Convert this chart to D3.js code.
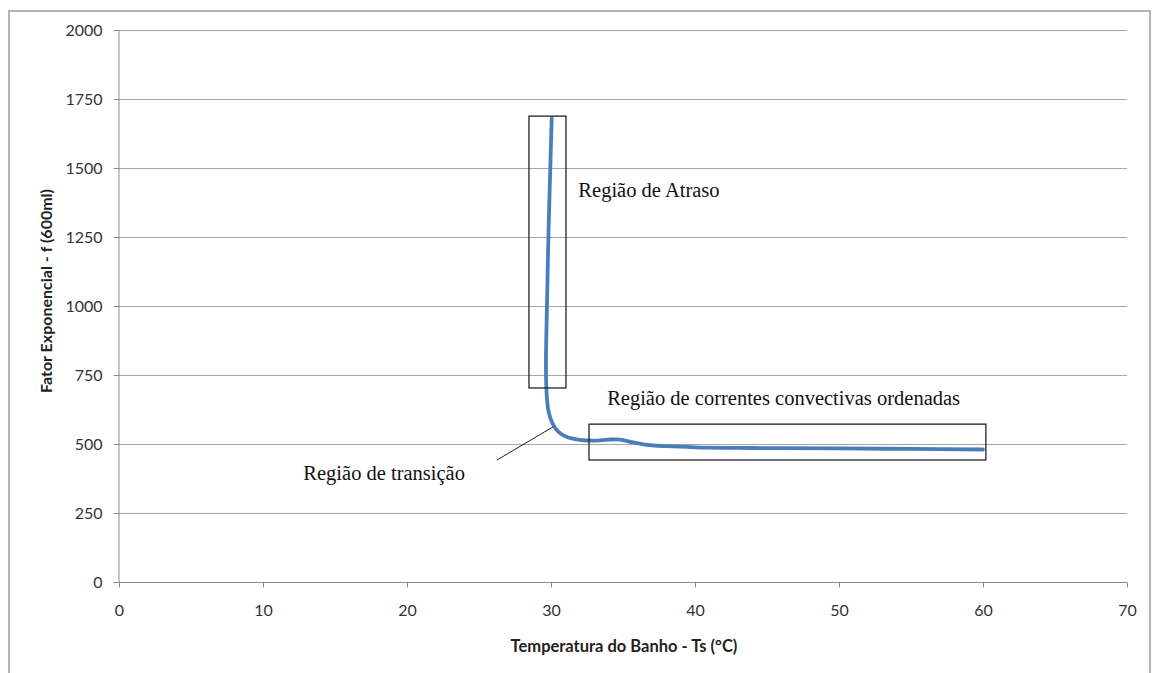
<!DOCTYPE html>
<html><head><meta charset="utf-8">
<script src="https://cdn.jsdelivr.net/npm/d3@7"></script>
<style>
body{margin:0;background:#fff;}
svg{display:block;}
</style></head>
<body><svg id="c" width="1153" height="673"></svg>
<script>
// Data
const temperature = [30.05,29.95,29.82,29.72,29.65,29.68,29.82,30.1,30.5,31.1,32.0,33.0,34.0,34.8,35.5,36.5,38.0,40.0,43.0,46.0,50.0,55.0,60.0];
const factor      = [1680,1500,1250,1000,800,700,620,575,545,525,515,512,516,516,508,498,492,488,486,485,484,482,480];
const xTicks = [0,10,20,30,40,50,60,70];
const yTicks = [0,250,500,750,1000,1250,1500,1750,2000];
const regionNames = ["Região de Atraso","Região de correntes convectivas ordenadas","Região de transição"];
// region boxes in data units: [x0,x1,y0,y1]
const regionBoxes = [[28.47,31.04,703,1688],[32.64,60.2,442,572]];
const transitionLeader = [[26.25,442],[30.14,562]];
const regionLabelAnchors = [[31.9,1395],[33.9,641],[12.8,370]];
const xTitle = "Temperatura do Banho - Ts (°C)";
const yTitle = "Fator Exponencial - f (600ml)";

const svg = d3.select("#c");
const L=119, R=1127, T=30, B=582;
const x = d3.scaleLinear().domain([0,70]).range([L,R]);
const y = d3.scaleLinear().domain([0,2000]).range([B,T]);

// outer frame
svg.append("rect").attr("x",9).attr("y",11).attr("width",1141).attr("height",670)
  .attr("fill","none").attr("stroke","#b4b4b4").attr("stroke-width",2);

// gridlines
svg.append("g").selectAll("line").data(yTicks.filter(d=>d>0)).join("line")
  .attr("x1",L).attr("x2",R).attr("y1",d=>y(d)+0.5).attr("y2",d=>y(d)+0.5)
  .attr("stroke","#a6a6a6").attr("stroke-width",1);

const font = "Lato, 'Open Sans', sans-serif";
// y axis
const ya = svg.append("g").attr("transform",`translate(${L+0.5},0)`)
  .call(d3.axisLeft(y).tickValues(yTicks).tickSize(6).tickPadding(11).tickFormat(d3.format("d")));
ya.select(".domain").attr("stroke","#8c8c8c").attr("d",`M-0.5,${y(2000)}V${y(0)}`);
ya.selectAll(".tick line").attr("stroke","#8c8c8c");
ya.selectAll("text").attr("font-family",font).attr("font-size",16).attr("fill","#333");

// x axis
const xa = svg.append("g").attr("transform",`translate(0,${B+0.5})`)
  .call(d3.axisBottom(x).tickValues(xTicks).tickSize(5).tickPadding(17).tickFormat(d3.format("d")));
xa.select(".domain").attr("stroke","#8c8c8c").attr("d",`M${L},0.5V0H${R}`);
xa.selectAll(".tick line").attr("stroke","#8c8c8c");
xa.selectAll("text").attr("font-family",font).attr("font-size",16).attr("fill","#333");

// axis titles
svg.append("text").attr("x",624).attr("y",652).attr("text-anchor","middle")
  .attr("font-family",font).attr("font-weight","bold").attr("font-size",16.5).attr("fill","#222").text(xTitle);
svg.append("text").attr("transform",`translate(52,291) rotate(-90)`).attr("text-anchor","middle")
  .attr("font-family",font).attr("font-weight","bold").attr("font-size",16).attr("fill","#222").text(yTitle);

// series line
const pts = temperature.map((t,i)=>[t,factor[i]]);
svg.append("path").datum(pts)
  .attr("d", d3.line().x(d=>x(d[0])).y(d=>y(d[1])).curve(d3.curveCatmullRom.alpha(0.5)))
  .attr("fill","none").attr("stroke","#4a7ebb").attr("stroke-width",3.8).attr("stroke-linecap","round");

// region boxes
svg.append("g").selectAll("rect").data(regionBoxes).join("rect")
  .attr("x",d=>x(d[0])).attr("y",d=>y(d[3])).attr("width",d=>x(d[1])-x(d[0])).attr("height",d=>y(d[2])-y(d[3]))
  .attr("fill","none").attr("stroke","#222").attr("stroke-width",1.3);

// transition leader line
svg.append("line").attr("x1",x(transitionLeader[0][0])).attr("y1",y(transitionLeader[0][1]))
  .attr("x2",x(transitionLeader[1][0])).attr("y2",y(transitionLeader[1][1]))
  .attr("stroke","#222").attr("stroke-width",1);

// region labels
svg.append("g").selectAll("text").data(regionNames).join("text")
  .attr("x",(d,i)=>x(regionLabelAnchors[i][0])).attr("y",(d,i)=>y(regionLabelAnchors[i][1]))
  .attr("font-family","'Liberation Serif','Times New Roman',serif").attr("font-size",20.5).attr("fill","#111")
  .text(d=>d);
</script></body></html>
